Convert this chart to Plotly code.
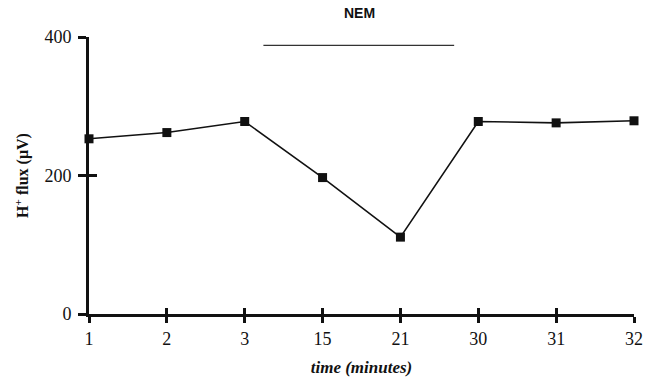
import plotly.graph_objects as go

categories = ["1", "2", "3", "15", "21", "30", "31", "32"]
flux = [253, 262, 278, 197, 111, 278, 276, 279]
y_ticks = [0, 200, 400]
nem_start = 2.24
nem_end = 4.69
nem_level = 388

serif = "Liberation Serif"

fig = go.Figure()
fig.add_trace(go.Scatter(
    x=list(range(len(categories))), y=flux, mode="lines+markers",
    line=dict(color="#111", width=1.6),
    marker=dict(symbol="square", size=9, color="#111"),
    cliponaxis=False, showlegend=False,
))
# NEM bar
fig.add_trace(go.Scatter(
    x=[nem_start, nem_end], y=[nem_level, nem_level], mode="lines",
    line=dict(color="#333", width=1.3), cliponaxis=False, showlegend=False,
))
# dummy trace to activate overlay axes
fig.add_trace(go.Scatter(x=[0], y=[0], xaxis="x2", yaxis="y2", mode="markers",
                         marker=dict(opacity=0), showlegend=False, hoverinfo="skip"))

fig.update_layout(
    width=651, height=381,
    margin=dict(l=89, r=17, t=37, b=67),
    paper_bgcolor="white", plot_bgcolor="white",
    xaxis=dict(
        range=[0, len(categories) - 1], tickmode="array", automargin=False,
        tickvals=list(range(len(categories))), ticktext=categories,
        showgrid=False, zeroline=False, showline=True, linecolor="#111", linewidth=3,
        ticks="outside", ticklen=6, tickwidth=3, tickcolor="#111",
        tickfont=dict(family=serif, size=18, color="#111"),
        title=dict(text="<b><i>time (minutes)</i></b>", font=dict(family=serif, size=17, color="#111"), standoff=14),
    ),
    yaxis=dict(
        range=[0, 400], tickvals=y_ticks, automargin=False,
        showgrid=False, zeroline=False, showline=True, linecolor="#111", linewidth=3,
        ticks="outside", ticklen=8, tickwidth=3, tickcolor="#111",
        ticklabelstandoff=3,
        tickfont=dict(family=serif, size=18, color="#111"),
        title=dict(text="<b>H<sup>+</sup> flux (μV)</b>", font=dict(family=serif, size=16, color="#111"), standoff=12),
    ),
    xaxis2=dict(
        overlaying="x", range=[0, len(categories) - 1], tickmode="array",
        tickvals=list(range(len(categories))), showticklabels=False, automargin=False,
        showgrid=False, zeroline=False, showline=False,
        ticks="inside", ticklen=6, tickwidth=3, tickcolor="#111", side="bottom",
    ),
    yaxis2=dict(
        overlaying="y", range=[0, 400], tickvals=y_ticks, showticklabels=False, automargin=False,
        showgrid=False, zeroline=False, showline=False,
        ticks="inside", ticklen=8, tickwidth=3, tickcolor="#111", side="left",
    ),
    annotations=[dict(
        x=3.47, y=1.0, xref="x", yref="paper", yanchor="bottom", yshift=14,
        text="<b>NEM</b>", showarrow=False,
        font=dict(family="Liberation Sans", size=14, color="#111"),
    )],
)

fig.write_html("out.html")
